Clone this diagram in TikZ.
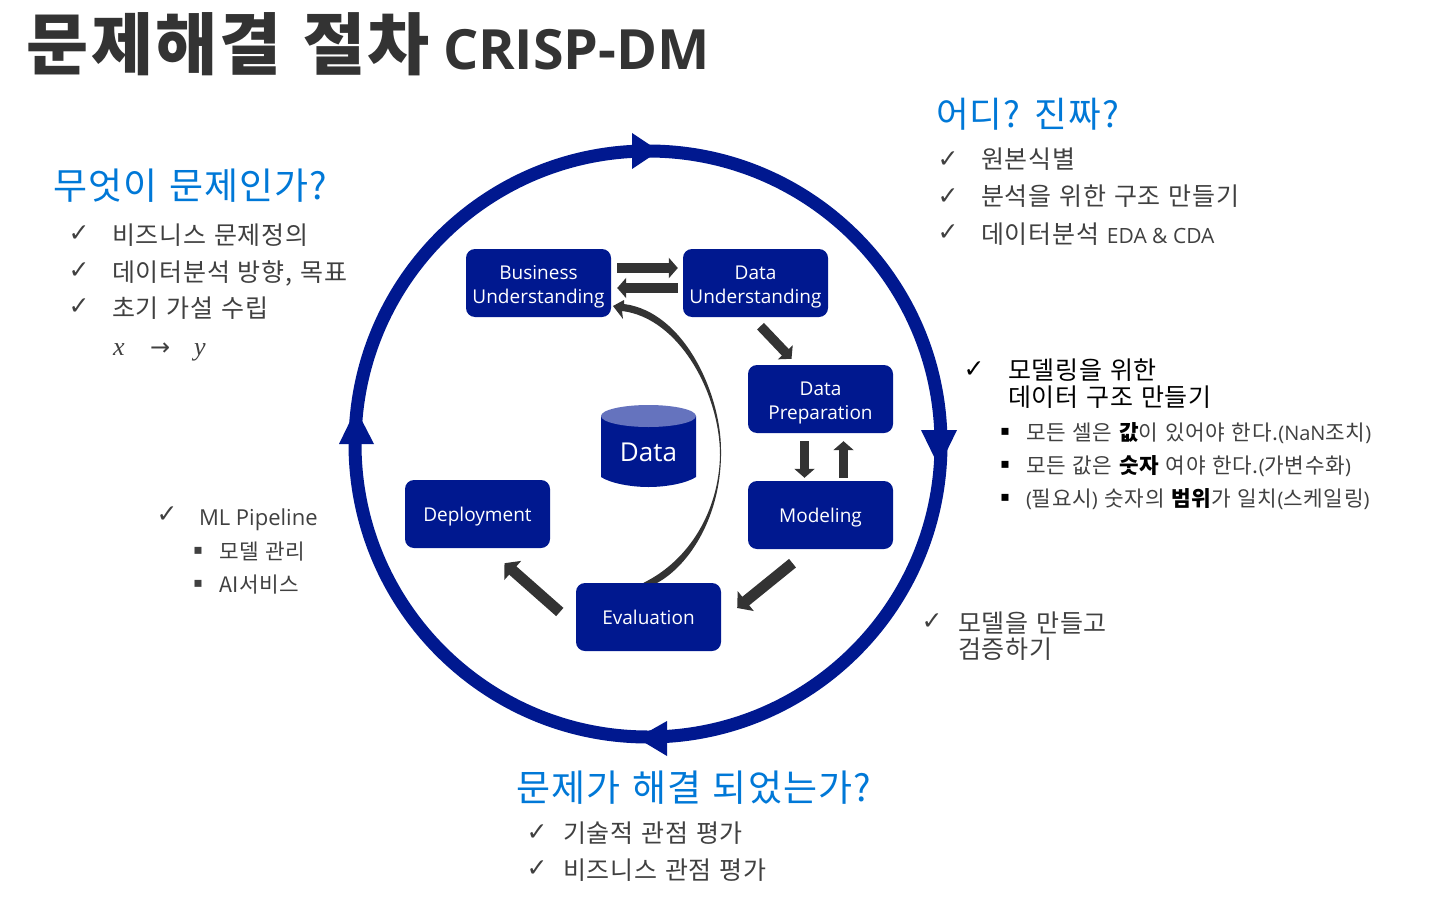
\documentclass[tikz,border=0pt]{standalone}
\usepackage{fontspec}
\setmainfont{Noto Sans CJK KR}[LetterSpace=3,WordSpace=1.25]
\newfontfamily\latn{Open Sans}
\newfontfamily\sym{DejaVu Sans}
\usetikzlibrary{arrows.meta,calc}
\definecolor{navy}{HTML}{00188F}
\definecolor{lightnavy}{HTML}{6573BE}
\definecolor{headblue}{HTML}{0078D7}
\definecolor{ink}{HTML}{404040}
\definecolor{arrowgrey}{HTML}{333333}
\newcommand{\fs}[1]{\fontsize{#1}{#1}\selectfont}
\newcommand{\toprow}[1]{\raisebox{0pt}[22pt][0pt]{#1}}
\tikzset{
  x=1pt,y=-1pt,
  txt/.style={anchor=base west,inner sep=0pt,outer sep=0pt,text=ink,font=\fs{25}},
  head/.style={txt,text=headblue,font=\fs{37}},
  chk/.style={anchor=center,inner sep=0pt,text=ink,font=\sym\fs{25}},
  sq/.style={anchor=center,inner sep=0pt,text=ink,font=\sym\fs{14}},
  stepbox/.style={draw=none,fill=navy,rounded corners=9pt,minimum width=145pt,minimum height=68pt,inner sep=0pt,align=center,text=white,font=\latn\fontsize{19}{24.5}\selectfont,anchor=center},
  onestep/.style={stepbox,align=none,font=\latn\fs{19},text height=14pt,text depth=0pt},
  blockarrow/.style={draw=arrowgrey,line width=9.5pt,-{Triangle[length=9pt,width=20pt]}},
  bigblockarrow/.style={draw=arrowgrey,line width=11pt,-{Triangle[length=11pt,width=25pt]}},
  bigtip/.style={fill=navy,draw=none},
}
\begin{document}
\begin{tikzpicture}
\useasboundingbox (0,0) rectangle (1434,904);
% title
\node[txt,text=arrowgrey,font=\bfseries\fs{67.5}] (title) at (27,70) {문제해결 절차};
\node[txt,text=arrowgrey,font=\latn\bfseries\fs{55.5}] (titleb) at (443,70) {CRISP-DM};
% cycle ring
\coordinate (ringc) at (648,444);
\draw[navy,line width=13pt] (ringc) circle [radius=293];
\fill[bigtip] (632,133) -- (659,151) -- (632,169) -- cycle;
\fill[bigtip] (921,430) -- (957,430) -- (939,467) -- cycle;
\fill[bigtip] (667,721) -- (637,738) -- (667,756) -- cycle;
\fill[bigtip] (339,444) -- (374,444) -- (356,409) -- cycle;
% steps
\node[stepbox] (bu) at (538.5,283) {\toprow{Business}\\Understanding};
\node[stepbox] (du) at (755.5,283) {\toprow{Data}\\Understanding};
\node[stepbox] (dp) at (820.5,399) {\toprow{Data}\\Preparation};
\node[onestep] (mo) at (820.5,515) {Modeling};
\node[onestep] (de) at (477.5,514) {Deployment};
\node[onestep] (ev) at (648.5,617) {Evaluation};
% data cylinder
\fill[navy] (601,416) -- (601,477) .. controls (610,483) and (630,487) .. (648.5,487) .. controls (667,487) and (687,483) .. (696,477) -- (696,416) -- cycle;
\fill[lightnavy] (648.5,416) ellipse [x radius=47.5,y radius=11];
\node[anchor=center,inner sep=0pt,text=white,font=\latn\fs{26}] (data) at (648.5,452) {Data};
% block arrows
\draw[blockarrow] ($(bu.east)+(6,-15)$) -- ($(du.west)+(-5,-15)$);
\draw[blockarrow] ($(du.west)+(-5,5)$) -- ($(bu.east)+(6,5)$);
\draw[blockarrow] ($(du.south)+(5,9)$) -- ($(dp.north)+(-29,-6)$);
\draw[blockarrow] ($(dp.south)+(-16,8)$) -- ($(mo.north)+(-16,-3)$);
\draw[blockarrow] ($(mo.north)+(23,-3)$) -- ($(dp.south)+(23,8)$);
\draw[bigblockarrow] ($(mo.south)+(-28,14)$) -- ($(ev.east)+(16,-9)$);
\draw[bigblockarrow] ($(ev.west)+(-16,-5)$) -- ($(de.south)+(27,15)$);
% curved return arrow
\fill[arrowgrey] (ev.north) ++(-5,0) .. controls (690,560) and (719,510) .. (720,455)
  .. controls (720,395) and (680,318) .. (622,311)
  -- (623,319) -- (613,306) -- (624,300) -- (624,304)
  .. controls (685,312) and (721,395) .. (721,450)
  .. controls (722,515) and (690,565) .. (657,583) -- cycle;
% what is the problem
\node[head] (h1) at (53,199.5) {무엇이 문제인가?};
\node[chk] (c11) at (79,234) {✓};
\node[chk] (c12) at (79,271) {✓};
\node[chk] (c13) at (79,307) {✓};
\node[txt] (t11) at (112,244) {비즈니스 문제정의};
\node[txt] (t12) at (112,281) {데이터분석 방향, 목표};
\node[txt] (t13) at (112,317) {초기 가설 수립};
\node[txt,font=\fs{26}] (x1) at (113,355) {\fontspec{Liberation Serif}\itshape x};
\node[txt,font=\fs{24}] (x2) at (150,355) {\sym →};
\node[txt,font=\fs{26}] (x3) at (194,355) {\fontspec{Liberation Serif}\itshape y};
% where real
\node[head,font=\fs{35.5}] (h2) at (936,128) {어디? 진짜?};
\node[chk] (c21) at (948,160) {✓};
\node[chk] (c22) at (948,197) {✓};
\node[chk] (c23) at (948,233) {✓};
\node[txt] (t21) at (981,169) {원본식별};
\node[txt] (t22) at (981,206) {분석을 위한 구조 만들기};
\node[txt] (t23) at (981,243) {데이터분석 {\latn\fs{21}EDA \& CDA}};
% modeling prep
\node[chk,text=black] (c31) at (974,370) {✓};
\node[txt,text=black] (t31) at (1008,379) {모델링을 위한};
\node[txt,text=black] (t32) at (1008,406) {데이터 구조 만들기};
\node[sq,text=black] (s31) at (1005,432) {▪};
\node[sq,text=black] (s32) at (1005,465) {▪};
\node[sq,text=black] (s33) at (1005,498) {▪};
\node[txt,font=\fs{21.3}] (t33) at (1026,440) {모든 셀은 {\bfseries\color{black}값}이 있어야 한다.{\latn\fs{20}(NaN}조치{\latn\fs{20})}};
\node[txt,font=\fs{21.3}] (t34) at (1026,473) {모든 값은 {\bfseries\color{black}숫자} 여야 한다.{\latn\fs{20}(}가변수화{\latn\fs{20})}};
\node[txt,font=\fs{21.3}] (t35) at (1026,506) {{\latn\fs{20}(}필요시{\latn\fs{20})} 숫자의 {\bfseries\color{black}범위}가 일치{\latn\fs{20}(}스케일링{\latn\fs{20})}};
% ML pipeline
\node[chk] (c41) at (167,515) {✓};
\node[txt,font=\latn\fs{22}] (t41) at (199,525) {ML Pipeline};
\node[sq] (s41) at (198,551) {▪};
\node[sq] (s42) at (198,584) {▪};
\node[txt,font=\fs{21.3}] (t42) at (219,559) {모델 관리};
\node[txt,font=\fs{21.3}] (t43) at (219,592) {AI서비스};
% build model
\node[chk] (c51) at (932,622) {✓};
\node[txt] (t51) at (958,632) {모델을 만들고};
\node[txt] (t52) at (958,658) {검증하기};
% solved
\node[head] (h3) at (516,801.5) {문제가 해결 되었는가?};
\node[chk] (c61) at (537,833) {✓};
\node[chk] (c62) at (537,869) {✓};
\node[txt] (t61) at (563,842) {기술적 관점 평가};
\node[txt] (t62) at (563,879) {비즈니스 관점 평가};
\end{tikzpicture}
\end{document}
